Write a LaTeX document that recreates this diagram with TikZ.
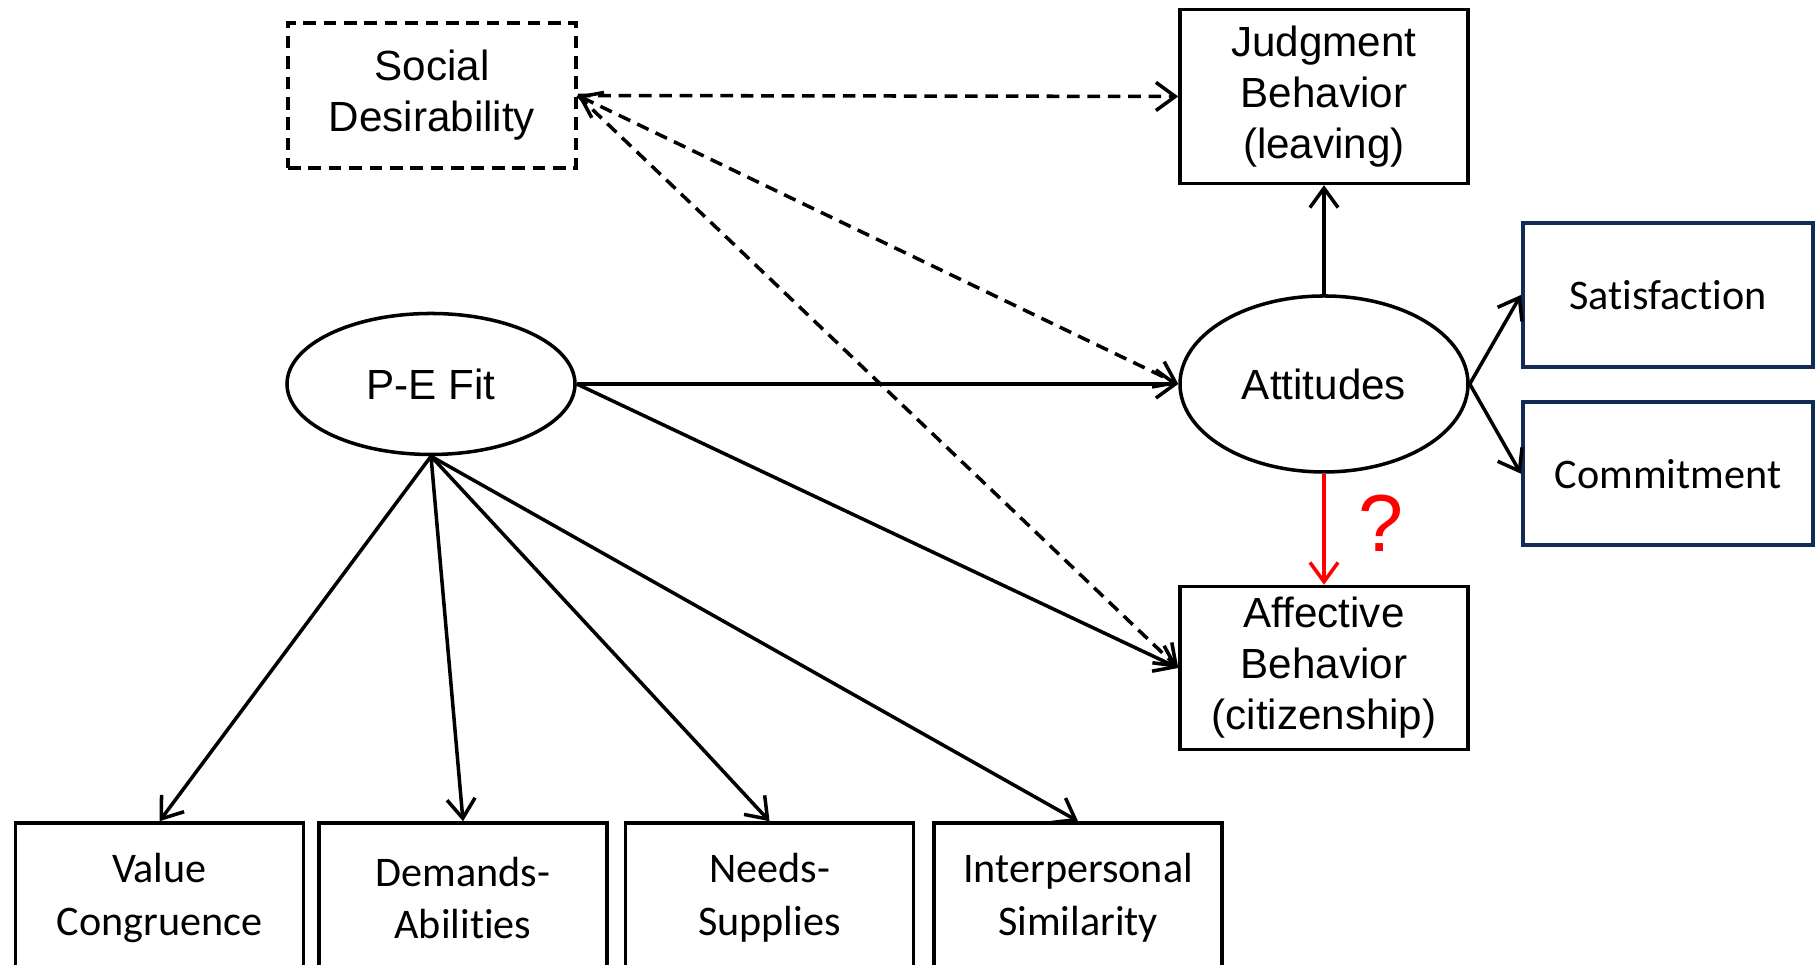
\documentclass[tikz,border=0pt]{standalone}
\usepackage{fontspec}
\setmainfont{Liberation Sans}
\newfontfamily\calibri[Ligatures={NoCommon,NoRare}]{Carlito}
\usetikzlibrary{positioning, arrows.meta, shapes.geometric}
\definecolor{pdnavy}{HTML}{112B56}
\definecolor{pdred}{HTML}{FF0000}

\begin{document}
\begin{tikzpicture}[font=\fontsize{12}{14.5}\selectfont, node distance=1.09cm,
    line width=1pt, >={Straight Barb[length=5.5pt,width=8pt]},
    box/.style={draw, minimum width=2.88cm, align=center, inner sep=2pt},
    calbox/.style={box, font=\fontsize{12}{15}\selectfont\calibri},
    fitellipse/.style={draw, ellipse, minimum width=2.88cm, align=center},
    dash line/.style={dash pattern=on 3.6pt off 2.2pt}]
    \path[use as bounding box, clip] (0,0) rectangle (18.18,9.65);
    \node[box, dash line, minimum height=1.45cm] (sd) at (4.32,8.695) {Social\\Desirability};
    \node[fitellipse, minimum height=1.41cm] (pe) at (4.31,5.81) {P-E Fit};
    \node[fitellipse, minimum height=1.76cm] (att) at (13.24,5.81) {Attitudes};
    \node[box, minimum height=1.74cm, above=of att] (jb) {Judgment\\Behavior\\(leaving)};
    \node[box, minimum height=1.63cm, below=1.11cm of att] (aff) {Affective\\Behavior\\(citizenship)};
    \node[calbox, draw=pdnavy, line width=1.2pt, minimum width=2.90cm, minimum height=1.44cm] (sat) at (16.68,6.70) {Satisfaction};
    \node[calbox, draw=pdnavy, line width=1.2pt, minimum width=2.90cm, minimum height=1.43cm, below=0.31cm of sat] (com) {Commitment};
    \node[calbox, minimum height=1.5cm] (vc) at (1.595,0.67) {Value\\Congruence};
    \node[calbox, minimum height=1.5cm, right=0.12cm of vc] (da) {Demands-\\Abilities};
    \node[calbox, minimum height=1.5cm, right=0.15cm of da] (ns) {Needs-\\Supplies};
    \node[calbox, minimum height=1.5cm, right=0.17cm of ns] (is) {Interpersonal\\Similarity};
    \draw[->, dash line] (sd.east) -- (jb.west);
    \draw[<->, dash line] (sd.east) -- (att.west);
    \draw[->, dash line] (sd.east) -- (aff.west);
    \draw[->] (pe) -- (att);
    \draw[->] (pe.east) -- (aff.west);
    \draw[->] (pe.south) -- (vc.north);
    \draw[->] (pe.south) -- (da.north);
    \draw[->] (pe.south) -- (ns.north);
    \draw[->] (pe.south) -- (is.north);
    \draw[->] (att) -- (jb);
    \draw[->] (att.east) -- (sat.west);
    \draw[->] (att.east) -- (com.west);
    \draw[->, pdred] (att) -- (aff) node[midway, right=0.33cm, yshift=0.06cm, inner sep=0pt, font=\fontsize{23}{27}\selectfont] (q) {?};
  \end{tikzpicture}
\end{document}
